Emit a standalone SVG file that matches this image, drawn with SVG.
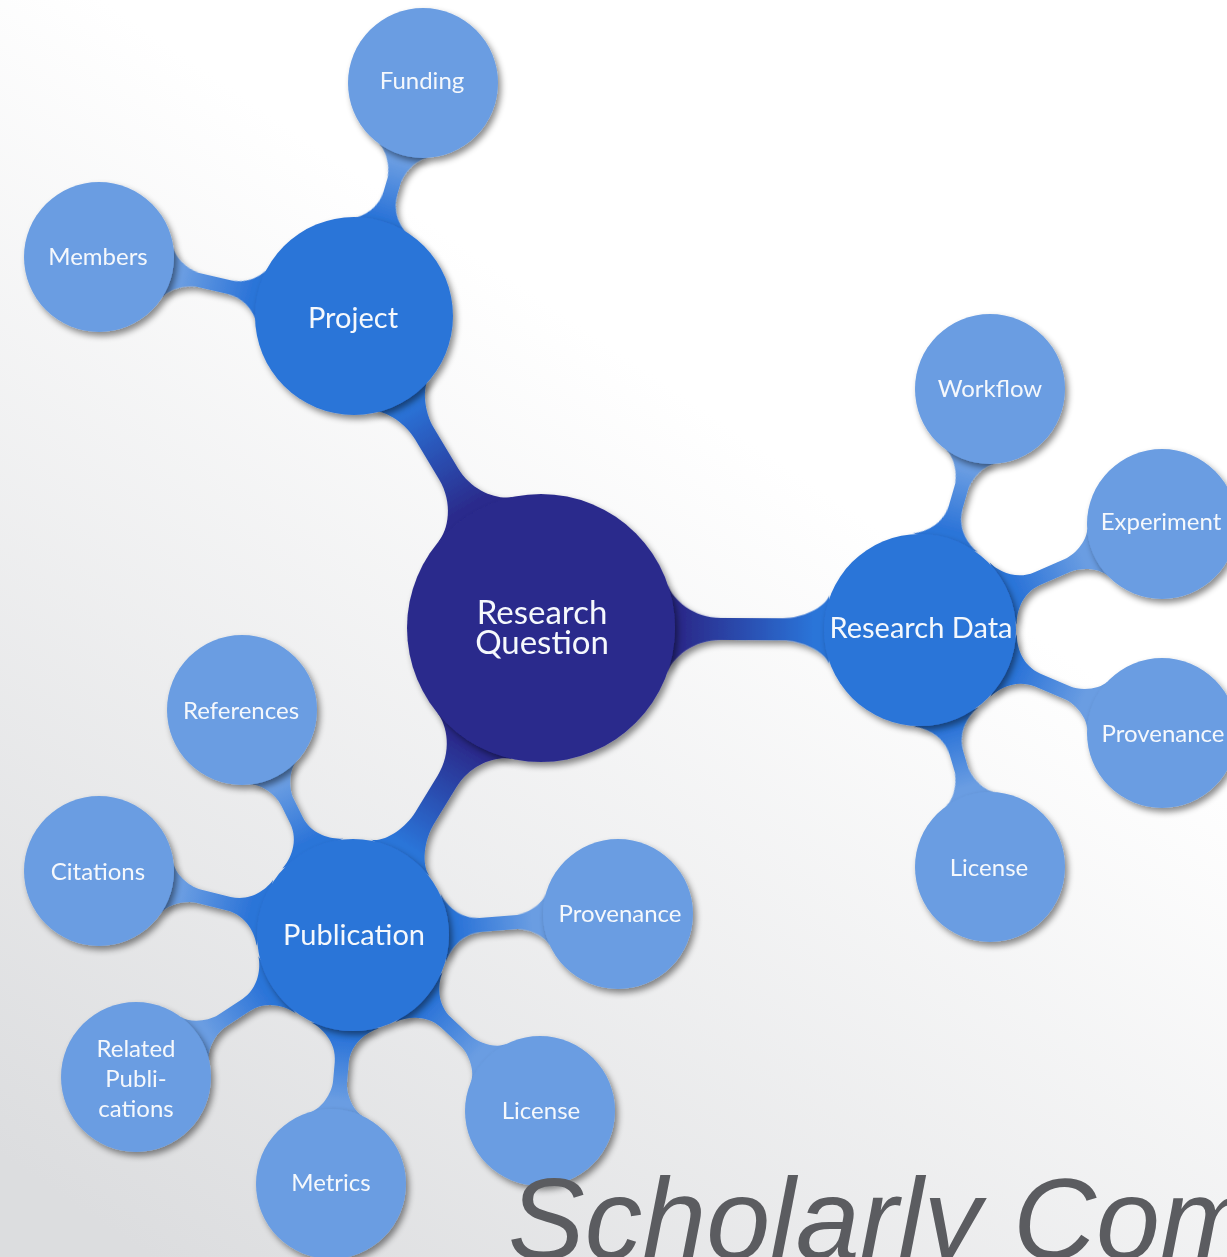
<svg xmlns="http://www.w3.org/2000/svg" width="1227" height="1257" viewBox="0 0 1227 1257">
<defs>
<linearGradient id="bg" gradientUnits="userSpaceOnUse" x1="150" y1="1257" x2="720" y2="420">
<stop offset="0" stop-color="#dcdddf"/>
<stop offset="1" stop-color="#ffffff"/>
</linearGradient>
<linearGradient id="gDark" x1="0" y1="0" x2="1" y2="0">
<stop offset="0.1" stop-color="#2b2b8c"/>
<stop offset="0.9" stop-color="#2c74d8"/>
</linearGradient>
<linearGradient id="gLeaf" x1="0" y1="0" x2="1" y2="0">
<stop offset="0.15" stop-color="#2c74d8"/>
<stop offset="0.85" stop-color="#6a9de2"/>
</linearGradient>
<filter id="sh" x="-20%" y="-20%" width="140%" height="140%">
<feDropShadow dx="3" dy="4" stdDeviation="3" flood-color="#000" flood-opacity="0.45"/>
</filter>
</defs>
<style>
.dark{fill:#2b2b8c;filter:url(#sh)}
.mid{fill:#2c74d8;filter:url(#sh)}
.leaf{fill:#6a9de2;filter:url(#sh)}
.cd{fill:url(#gDark)}
.cl{fill:url(#gLeaf)}
text{font-family:Lato,"Open Sans",sans-serif;fill:#f5f8fc;text-anchor:middle}
.t1{font-size:33px}
.t2{font-size:29px}
.t3{font-size:24px}
.title{font-family:"Liberation Sans",Arial,sans-serif;font-style:italic;font-size:115px;fill:#5b5c60;text-anchor:start}
</style>
<rect x="0" y="0" width="1227" height="1257" fill="url(#bg)"/>

<g id="connectors" filter="url(#sh)">
<path class="cd" transform="translate(541,628) rotate(-120.94)" d="M126.57,44 C131.8,28.9 152,11 180,11 L226.7,11 C245.7,11 268.3,21.8 272.85,34 L272.85,-34 C268.3,-21.8 245.7,-11 226.7,-11 L180,-11 C152,-11 131.8,-28.9 126.57,-44 Z"/>
<path class="cd" transform="translate(541,628) rotate(0.3)" d="M126.57,44 C131.8,28.9 152,11 180,11 L242,11 C261,11 283.6,21.8 288.15,34 L288.15,-34 C283.6,-21.8 261,-11 242,-11 L180,-11 C152,-11 131.8,-28.9 126.57,-44 Z"/>
<path class="cd" transform="translate(541,628) rotate(121.5)" d="M126.57,44 C131.8,28.9 152,11 180,11 L223,11 C242,11 264.6,21.8 269.15,34 L269.15,-34 C264.6,-21.8 242,-11 223,-11 L180,-11 C152,-11 131.8,-28.9 126.57,-44 Z"/>

<path class="cl" transform="translate(354,316) rotate(-73.5)" d="M90.85,34 C95.05,22.8 108,7 128,7 L140,7 C153,7 169.15,16.6 172.65,26 L172.65,-26 C169.15,-16.6 153,-7 140,-7 L128,-7 C108,-7 95.05,-22.8 90.85,-34 Z"/>
<path class="cl" transform="translate(354,316) rotate(-166.97)" d="M90.85,34 C95.05,22.8 108,7 128,7 L158.7,7 C171.7,7 187.85,16.6 191.35,26 L191.35,-26 C187.85,-16.6 171.7,-7 158.7,-7 L128,-7 C108,-7 95.05,-22.8 90.85,-34 Z"/>

<path class="cl" transform="translate(920,630) rotate(-73.8)" d="M90.85,34 C95.05,22.8 108,7 128,7 L148,7 C161,7 177.15,16.6 180.65,26 L180.65,-26 C177.15,-16.6 161,-7 148,-7 L128,-7 C108,-7 95.05,-22.8 90.85,-34 Z"/>
<path class="cl" transform="translate(920,630) rotate(-23.65)" d="M90.85,34 C95.05,22.8 108,7 128,7 L161.2,7 C174.2,7 190.35,16.6 193.85,26 L193.85,-26 C190.35,-16.6 174.2,-7 161.2,-7 L128,-7 C108,-7 95.05,-22.8 90.85,-34 Z"/>
<path class="cl" transform="translate(920,630) rotate(23.06)" d="M90.85,34 C95.05,22.8 108,7 128,7 L160,7 C173,7 189.15,16.6 192.65,26 L192.65,-26 C189.15,-16.6 173,-7 160,-7 L128,-7 C108,-7 95.05,-22.8 90.85,-34 Z"/>
<path class="cl" transform="translate(920,630) rotate(73.5)" d="M90.85,34 C95.05,22.8 108,7 128,7 L144.1,7 C157.1,7 173.25,16.6 176.75,26 L176.75,-26 C173.25,-16.6 157.1,-7 144.1,-7 L128,-7 C108,-7 95.05,-22.8 90.85,-34 Z"/>

<path class="cl" transform="translate(353,935) rotate(-116.26)" d="M90.85,34 C95.05,22.8 108,7 128,7 L147.9,7 C160.9,7 177.05,16.6 180.55,26 L180.55,-26 C177.05,-16.6 160.9,-7 147.9,-7 L128,-7 C108,-7 95.05,-22.8 90.85,-34 Z"/>
<path class="cl" transform="translate(353,935) rotate(-165.86)" d="M90.85,34 C95.05,22.8 108,7 128,7 L158.9,7 C171.9,7 188.05,16.6 191.55,26 L191.55,-26 C188.05,-16.6 171.9,-7 158.9,-7 L128,-7 C108,-7 95.05,-22.8 90.85,-34 Z"/>
<path class="cl" transform="translate(353,935) rotate(-4.53)" d="M90.85,34 C95.05,22.8 108,7 128,7 L162.8,7 C175.8,7 191.95,16.6 195.45,26 L195.45,-26 C191.95,-16.6 175.8,-7 162.8,-7 L128,-7 C108,-7 95.05,-22.8 90.85,-34 Z"/>
<path class="cl" transform="translate(353,935) rotate(146.8)" d="M90.85,34 C95.05,22.8 108,7 128,7 L156.3,7 C169.3,7 185.45,16.6 188.95,26 L188.95,-26 C185.45,-16.6 169.3,-7 156.3,-7 L128,-7 C108,-7 95.05,-22.8 90.85,-34 Z"/>
<path class="cl" transform="translate(353,935) rotate(95.05)" d="M90.85,34 C95.05,22.8 108,7 128,7 L147,7 C160,7 176.15,16.6 179.65,26 L179.65,-26 C176.15,-16.6 160,-7 147,-7 L128,-7 C108,-7 95.05,-22.8 90.85,-34 Z"/>
<path class="cl" transform="translate(353,935) rotate(43.26)" d="M90.85,34 C95.05,22.8 108,7 128,7 L153.8,7 C166.8,7 182.95,16.6 186.45,26 L186.45,-26 C182.95,-16.6 166.8,-7 153.8,-7 L128,-7 C108,-7 95.05,-22.8 90.85,-34 Z"/>
</g>

<g id="research-question"><circle class="dark" cx="541" cy="628" r="134"/><text class="t1" x="542" y="624">Research</text><text class="t1" x="542" y="654">Question</text></g>

<g id="project"><circle class="mid" cx="354" cy="316" r="99"/><text class="t2" x="353" y="328">Project</text></g>
<g id="funding"><circle class="leaf" cx="423" cy="83" r="75"/><text class="t3" x="422" y="89">Funding</text></g>
<g id="members"><circle class="leaf" cx="99" cy="257" r="75"/><text class="t3" x="98" y="265">Members</text></g>

<g id="research-data"><circle class="mid" cx="920" cy="630" r="96"/><text class="t2" x="921" y="638">Research Data</text></g>
<g id="workflow"><circle class="leaf" cx="990" cy="389" r="75"/><text class="t3" x="990" y="397">Workflow</text></g>
<g id="experiment"><circle class="leaf" cx="1162" cy="524" r="75"/><text class="t3" x="1161" y="530">Experiment</text></g>
<g id="provenance-data"><circle class="leaf" cx="1162" cy="733" r="75"/><text class="t3" x="1163" y="742">Provenance</text></g>
<g id="license-data"><circle class="leaf" cx="990" cy="867" r="75"/><text class="t3" x="989" y="876">License</text></g>

<g id="publication"><circle class="mid" cx="353" cy="935" r="96"/><text class="t2" x="354" y="945">Publication</text></g>
<g id="references"><circle class="leaf" cx="242" cy="710" r="75"/><text class="t3" x="241" y="719">References</text></g>
<g id="citations"><circle class="leaf" cx="99" cy="871" r="75"/><text class="t3" x="98" y="880">Citations</text></g>
<g id="provenance-pub"><circle class="leaf" cx="618" cy="914" r="75"/><text class="t3" x="620" y="922">Provenance</text></g>
<g id="related-publications"><circle class="leaf" cx="136" cy="1077" r="75"/><text class="t3" x="136" y="1057">Related</text><text class="t3" x="136" y="1087">Publi-</text><text class="t3" x="136" y="1117">cations</text></g>
<g id="metrics"><circle class="leaf" cx="331" cy="1184" r="75"/><text class="t3" x="331" y="1191">Metrics</text></g>
<g id="license-pub"><circle class="leaf" cx="540" cy="1111" r="75"/><text class="t3" x="541" y="1119">License</text></g>

<text class="title" x="508" y="1259">Scholarly Com</text>
</svg>
